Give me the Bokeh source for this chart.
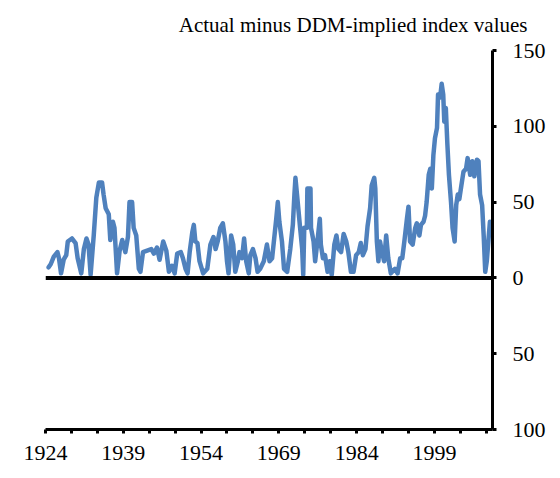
from bokeh.plotting import figure
from bokeh.models import Range1d, FixedTicker, Span, Title
from bokeh.embed import file_html
from bokeh.resources import INLINE

years = [1924.6, 1925.0, 1925.6, 1926.3, 1926.6, 1927.0, 1927.5, 1928.0, 1928.3, 1929.1,
         1929.8, 1930.2, 1930.9, 1931.4, 1931.9, 1932.3, 1932.7, 1933.3, 1933.8, 1934.3,
         1934.9, 1935.2, 1935.6, 1936.2, 1936.5, 1937.0, 1937.3, 1937.8, 1938.3, 1938.8,
         1939.4, 1939.9, 1940.2, 1940.7, 1941.0, 1941.5, 1942.0, 1942.3, 1942.8, 1943.6,
         1944.4, 1944.9, 1945.5, 1946.0, 1946.7, 1947.3, 1947.8, 1948.4, 1948.9, 1949.4,
         1950.1, 1950.5, 1951.0, 1951.4, 1951.8, 1952.3, 1952.6, 1952.9, 1953.3, 1953.7,
         1954.4, 1955.2, 1955.8, 1956.4, 1956.8, 1957.2, 1957.7, 1958.2, 1958.7, 1959.0,
         1959.3, 1959.8, 1960.2, 1960.6, 1961.1, 1961.4, 1961.9, 1962.3, 1962.7, 1963.2,
         1963.5, 1964.0, 1964.5, 1964.9, 1965.4, 1966.1, 1966.7, 1967.2, 1967.7, 1968.1,
         1968.5, 1968.8, 1969.1, 1969.6, 1970.0, 1970.6, 1971.2, 1971.7, 1972.0, 1972.2,
         1972.5, 1972.8, 1973.1, 1973.5, 1973.7, 1973.9, 1974.4, 1974.5, 1975.1, 1975.2,
         1975.7, 1976.0, 1976.5, 1976.9, 1977.1, 1977.5, 1977.9, 1978.4, 1978.8, 1979.2,
         1979.7, 1980.1, 1980.5, 1981.0, 1981.5, 1982.0, 1982.4, 1982.9, 1983.4, 1983.9,
         1984.4, 1984.8, 1985.2, 1985.7, 1986.1, 1986.6, 1986.9, 1987.4, 1987.6, 1987.9,
         1988.2, 1988.5, 1988.9, 1989.3, 1989.7, 1990.1, 1990.6, 1991.4, 1991.9, 1992.4,
         1992.8, 1993.2, 1993.7, 1994.0, 1994.3, 1994.8, 1995.3, 1995.6, 1996.1, 1996.4,
         1996.9, 1997.2, 1997.5, 1997.9, 1998.2, 1998.5, 1998.8, 1999.1, 1999.5, 1999.7,
         2000.1, 2000.4, 2000.7, 2000.9, 2001.2, 2001.5, 2001.8, 2002.2, 2002.5, 2002.9,
         2003.2, 2003.5, 2003.8, 2004.2, 2004.6, 2005.1, 2005.4, 2005.9, 2006.3, 2006.7,
         2007.2, 2007.5, 2007.8, 2008.2, 2008.5, 2008.8, 2009.1, 2009.4, 2009.7]

values = [7, 9, 14, 17, 13, 3, 12, 15, 24, 26,
          23, 13, 3, 19, 26, 22, 2, 28, 53, 63,
          63, 55, 46, 42, 25, 37, 33, 3, 18, 25,
          17, 27, 50, 50, 33, 28, 6, 4, 17, 18,
          19, 16, 20, 12, 24, 18, 4, 8, 3, 16,
          17, 13, 6, 3, 17, 30, 35, 24, 23, 11,
          3, 6, 22, 27, 19, 24, 33, 36, 24, 11,
          3, 28, 22, 4, 11, 17, 13, 26, 11, 3,
          15, 19, 13, 4, 6, 11, 22, 11, 13, 26,
          39, 50, 37, 24, 6, 4, 19, 35, 55, 66,
          55, 44, 33, 19, 2, 33, 33, 59, 59, 33,
          24, 11, 26, 39, 22, 13, 15, 4, 11, 2,
          22, 28, 19, 17, 29, 24, 17, 4, 4, 15,
          17, 23, 15, 19, 34, 46, 61, 66, 59, 24,
          11, 24, 17, 11, 28, 13, 3, 6, 3, 13,
          13, 24, 39, 47, 24, 22, 33, 36, 28, 35,
          37, 41, 50, 68, 72, 59, 81, 92, 99, 121,
          119, 128, 121, 103, 112, 88, 68, 50, 33, 24,
          48, 55, 52, 61, 70, 72, 79, 68, 77, 67,
          78, 77, 55, 48, 28, 4, 11, 24, 37]

x_ticks = list(range(1924, 2010, 5))
x_labels = {t: (str(t) if (t - 1924) % 15 == 0 else "") for t in x_ticks}
y_ticks = [-100, -50, 0, 50, 100, 150]
y_labels = {-100: "100", -50: "50", 0: "0", 50: "50", 100: "100", 150: "150"}
title_text = "Actual minus DDM-implied index values"

FONT = "Liberation Serif"

p = figure(width=552, height=470, output_backend="svg", toolbar_location=None,
           x_range=Range1d(1924, 2010.2), y_range=Range1d(-100, 150),
           y_axis_location="right",
           min_border_left=45, min_border_right=60, min_border_top=49, min_border_bottom=41)
p.outline_line_color = None
p.grid.visible = False
p.background_fill_color = "white"

p.line(years, values, line_color="#4F81BD", line_width=4.5, line_join="round", line_cap="round")

p.add_layout(Span(location=0, dimension="width", line_color="black", line_width=4))

xa = p.xaxis[0]
xa.ticker = FixedTicker(ticks=x_ticks)
xa.major_label_overrides = x_labels
xa.axis_line_width = 3
xa.axis_line_color = "black"
xa.major_tick_line_width = 3
xa.major_tick_out = 4
xa.major_tick_in = 0
xa.minor_tick_line_color = None
xa.major_label_standoff = 12
xa.major_label_text_font = FONT
xa.major_label_text_font_size = "22px"
xa.major_label_text_color = "black"

ya = p.yaxis[0]
ya.ticker = FixedTicker(ticks=y_ticks)
ya.major_label_overrides = y_labels
ya.axis_line_width = 3
ya.axis_line_color = "black"
ya.major_tick_line_width = 3
ya.major_tick_out = 4
ya.major_tick_in = 0
ya.minor_tick_line_color = None
ya.major_label_standoff = 16
ya.major_label_text_font = FONT
ya.major_label_text_font_size = "22px"
ya.major_label_text_color = "black"

p.add_layout(Title(text=title_text, align="right", offset=-35, standoff=24,
                   vertical_align="top",
                   text_font=FONT, text_font_size="21px", text_font_style="normal",
                   text_color="black"), "above")

open("out.html", "w").write(file_html(p, INLINE))
